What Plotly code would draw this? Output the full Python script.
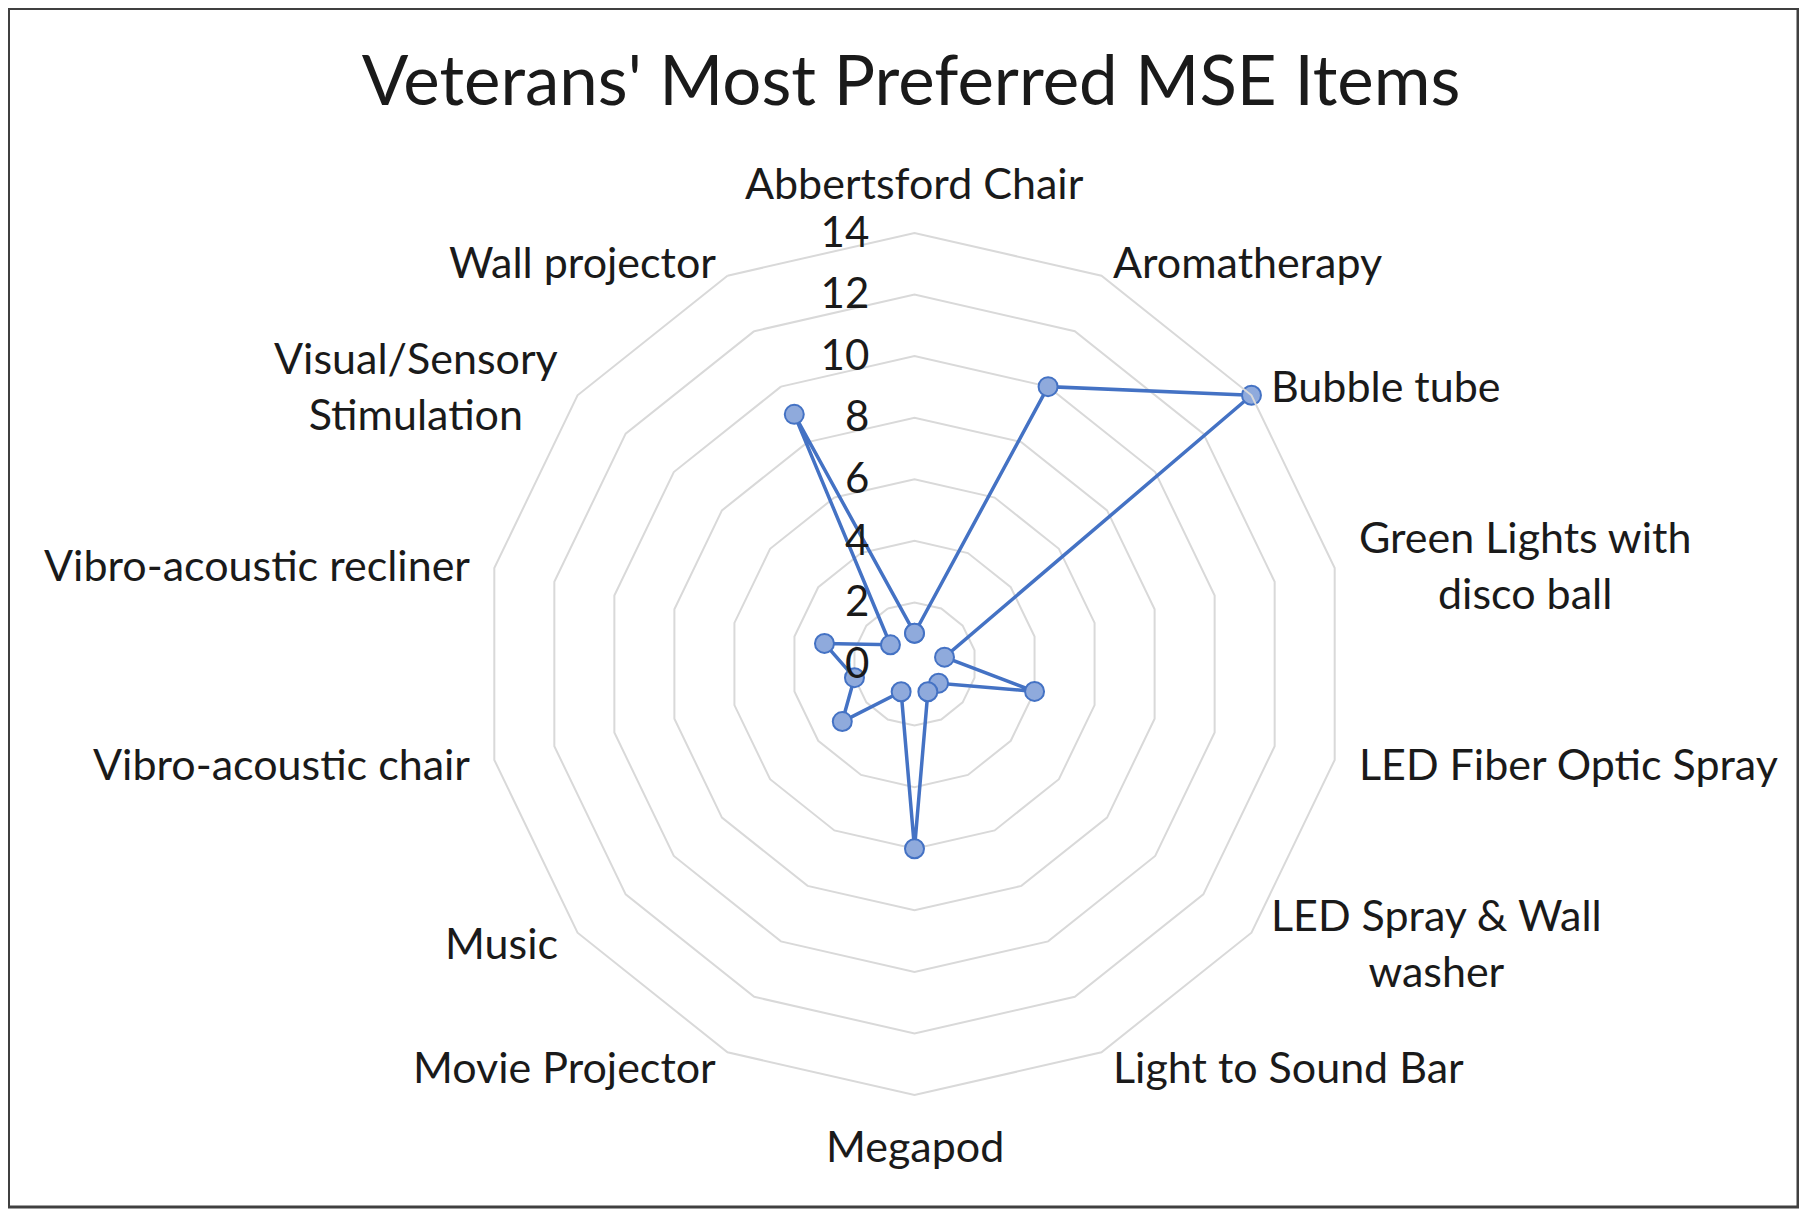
import math
import plotly.graph_objects as go

categories = [
    "Abbertsford Chair", "Aromatherapy", "Bubble tube",
    "Green Lights with disco ball", "LED Fiber Optic Spray",
    "LED Spray & Wall washer", "Light to Sound Bar", "Megapod",
    "Movie Projector", "Music", "Vibro-acoustic chair",
    "Vibro-acoustic recliner", "Visual/Sensory Stimulation", "Wall projector",
]
label_text = [
    "Abbertsford Chair", "Aromatherapy", "Bubble tube",
    "Green Lights with<br>disco ball", "LED Fiber Optic Spray",
    "LED Spray & Wall<br>washer", "Light to Sound Bar", "Megapod",
    "Movie Projector", "Music", "Vibro-acoustic chair",
    "Vibro-acoustic recliner", "Visual/Sensory<br>Stimulation", "Wall projector",
]
values = [1, 10, 14, 1, 4, 1, 1, 6, 1, 3, 2, 3, 1, 9]
radial_ticks = [0, 2, 4, 6, 8, 10, 12, 14]
r_max = 14

# the page body has an 8px margin, so the figure is drawn 8px smaller
W, H = 1799, 1207
cx, cy, R = 906.5, 656, 431

font_family = "Lato, Carlito, 'Open Sans', sans-serif"
text_color = "#1a1a1a"

fig = go.Figure()
fig.add_trace(go.Scatterpolar(
    r=values + values[:1],
    theta=categories + categories[:1],
    mode="lines+markers",
    line=dict(color="#4472C4", width=3.5),
    marker=dict(size=19, color="#8FAADC",
                line=dict(color="#4472C4", width=2)),
    showlegend=False,
))

# category labels placed just outside the outer polygon, like Excel
annotations = []
pad = 23
pull = 7
n = len(categories)
for i, txt in enumerate(label_text):
    a = 2 * math.pi * i / n
    s, c = math.sin(a), math.cos(a)
    px = cx + (R + pad) * s
    if abs(s) < 0.05:
        py = cy - (R + pad) * c
        xa = "center"
        ya = "bottom" if c > 0 else "top"
    else:
        py = cy - (R + pad - pull) * c
        xa = "left" if s > 0 else "right"
        ya = "middle"
    annotations.append(dict(
        text=txt, x=px / W, y=1 - py / H, xref="paper", yref="paper",
        xanchor=xa, yanchor=ya, align="center", showarrow=False,
        font=dict(size=43, family=font_family, color=text_color),
    ))

fig.update_layout(
    width=W, height=H,
    margin=dict(l=0, r=0, t=0, b=0),
    paper_bgcolor="white",
    plot_bgcolor="white",
    font=dict(family=font_family, color=text_color),
    title=dict(text="Veterans' Most Preferred MSE Items",
               x=903 / W, y=1 - 73 / H, xanchor="center", yanchor="middle",
               font=dict(size=69, family=font_family, color=text_color)),
    polar=dict(
        domain=dict(x=[(cx - R) / W, (cx + R) / W],
                    y=[(H - cy - R) / H, (H - cy + R) / H]),
        bgcolor="white",
        gridshape="linear",
        angularaxis=dict(
            rotation=90, direction="clockwise",
            categoryorder="array", categoryarray=categories,
            showticklabels=False,
            showgrid=False, showline=True, linecolor="#D9D9D9", linewidth=2,
            ticks="",
        ),
        radialaxis=dict(
            range=[0, r_max], tickvals=radial_ticks, angle=90, tickangle=90,
            side="counterclockwise",
            showline=False, ticks="outside", ticklen=30,
            tickcolor="rgba(0,0,0,0)",
            gridcolor="#D9D9D9", gridwidth=2,
            tickfont=dict(size=42, color=text_color),
        ),
    ),
    annotations=annotations,
    shapes=[dict(type="rect", xref="paper", yref="paper",
                 x0=0.5 / W, x1=1790 / W, y0=1 - 1199 / H, y1=1 - 0.5 / H,
                 line=dict(color="#404040", width=3), layer="above")],
)
fig.write_html("out.html")
